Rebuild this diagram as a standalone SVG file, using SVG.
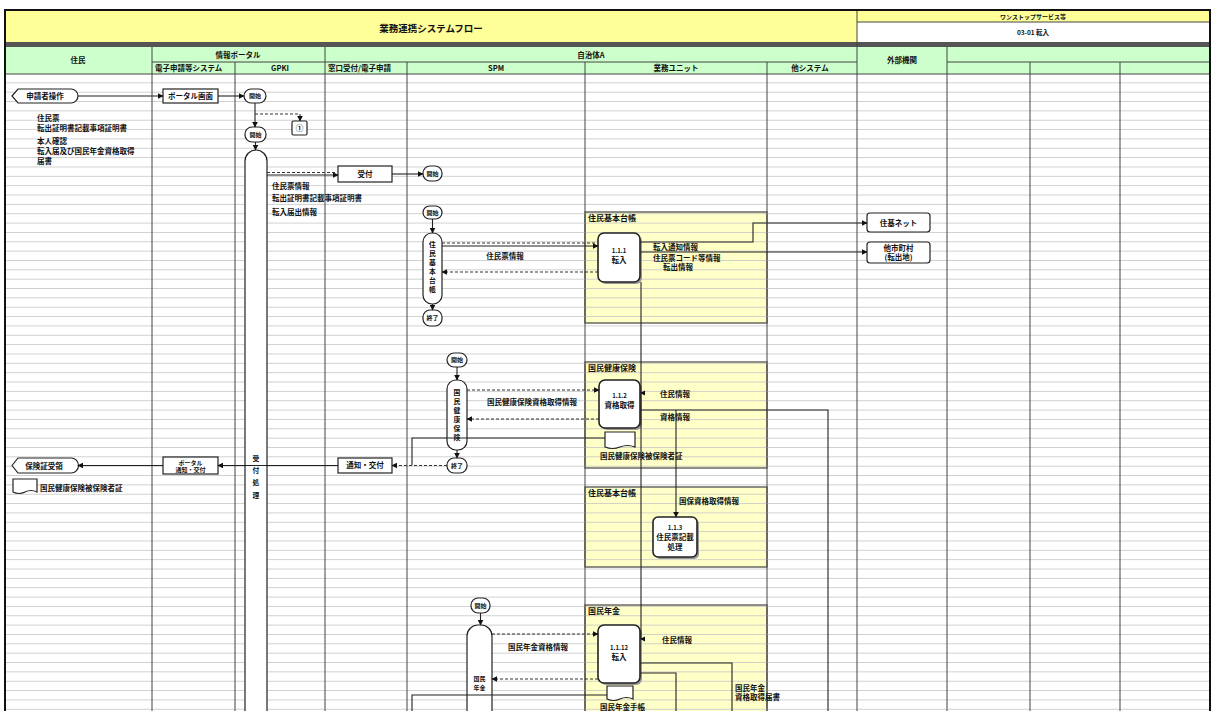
<svg xmlns="http://www.w3.org/2000/svg" width="1216" height="711" viewBox="0 0 1216 711">
<defs>
<style>
text{font-family:"Noto Sans CJK JP","Noto Sans",sans-serif;fill:#111;font-weight:bold}
.t{font-size:7.5px}
.s{font-size:6px}
.hd{font-size:7.5px}
.ti{font-size:9.5px}
.c{text-anchor:middle}
.ln{stroke:#222;stroke-width:1.1;fill:none}
.ds{stroke:#333;stroke-width:1.1;fill:none;stroke-dasharray:3 2}
.lane{stroke:#444;stroke-width:1;fill:none}
.nd{fill:#fff;stroke:#222;stroke-width:1.2}
.pb{fill:#fff;stroke:#222;stroke-width:1.6}
.sh{fill:#999}
.yb{fill:#FFFFC8;stroke:#444;stroke-width:1.2}
.v{font-size:6.8px;text-anchor:middle}
</style>
<marker id="ah" viewBox="0 0 10 10" refX="9" refY="5" markerWidth="6" markerHeight="6" markerUnits="userSpaceOnUse" orient="auto"><path d="M0,0 L10,5 L0,10 z" fill="#111"/></marker>
<pattern id="grid" x="0" y="82.35" width="20" height="9.35" patternUnits="userSpaceOnUse"><rect width="20" height="0.8" fill="#c6c6c6"/></pattern>
</defs>
<rect width="1216" height="711" fill="#fff"/>

<g id="header">
<rect x="5" y="10" width="852" height="32" fill="#FFFF99"/>
<text class="ti c" x="431" y="32">業務連携システムフロー</text>
<rect x="857" y="10" width="353" height="12" fill="#FFFF99"/>
<rect x="857" y="22" width="353" height="20" fill="#fff"/>
<line x1="857" y1="22" x2="1210" y2="22" class="lane"/>
<text class="s c" x="1033" y="19">ワンストップサービス等</text>
<text class="s c" x="1033" y="35" style="font-size:6.5px">03-01 転入</text>
<rect x="5" y="42" width="1205" height="5" fill="#555"/>
<rect x="5" y="47" width="1205" height="27" fill="#CCFFCC"/>
<line x1="152" y1="62" x2="857" y2="62" class="lane"/>
<line x1="947" y1="62" x2="1210" y2="62" class="lane"/>
<line x1="5" y1="74" x2="1210" y2="74" class="lane"/>
<text class="hd c" x="78" y="63">住民</text>
<text class="hd c" x="238" y="58">情報ポータル</text>
<text class="hd" x="155" y="71">電子申請等システム</text>
<text class="hd c" x="280" y="71">GPKI</text>
<text class="hd c" x="591" y="58">自治体A</text>
<text class="hd" x="328" y="71">窓口受付/電子申請</text>
<text class="hd c" x="496" y="71">SPM</text>
<text class="hd c" x="676" y="71">業務ユニット</text>
<text class="hd c" x="810" y="71">他システム</text>
<text class="hd c" x="902" y="63">外部機関</text>
</g>

<g id="r-juki1"><rect class="yb" x="585" y="212" width="182" height="111"/></g>
<g id="r-kokuho"><rect class="yb" x="585" y="362" width="182" height="106"/></g>
<g id="r-juki2"><rect class="yb" x="585" y="487" width="182" height="80"/></g>
<g id="r-nenkin"><rect class="yb" x="585" y="605" width="182" height="120"/></g>

<rect x="5" y="74" width="1205" height="637" fill="url(#grid)"/>

<g id="lanes">
<line x1="152" y1="47" x2="152" y2="711" class="lane"/>
<line x1="235" y1="62" x2="235" y2="711" class="lane"/>
<line x1="325" y1="47" x2="325" y2="711" class="lane"/>
<line x1="407" y1="62" x2="407" y2="711" class="lane"/>
<line x1="585" y1="62" x2="585" y2="711" class="lane"/>
<line x1="767" y1="62" x2="767" y2="711" class="lane"/>
<line x1="857" y1="10" x2="857" y2="711" class="lane"/>
<line x1="947" y1="47" x2="947" y2="711" class="lane"/>
<line x1="1030" y1="62" x2="1030" y2="711" class="lane"/>
<line x1="1120" y1="62" x2="1120" y2="711" class="lane"/>
<rect x="5" y="10" width="1205" height="710" fill="none" stroke="#111" stroke-width="2"/>
</g>

<g id="region-titles">
<text class="t" x="588" y="221" style="font-size:8px">住民基本台帳</text>
<text class="t" x="588" y="371" style="font-size:8px">国民健康保険</text>
<text class="t" x="588" y="496" style="font-size:8px">住民基本台帳</text>
<text class="t" x="588" y="614" style="font-size:8px">国民年金</text>
</g>

<g id="n-applicant"><path class="nd" d="M12,96 L18,89 H71 A7,7 0 0 1 71,103 H18 Z"/><text class="t c" x="45" y="99">申請者操作</text></g>
<g id="n-apply-docs">
<text class="t" x="37" y="121">住民票</text>
<text class="t" x="37" y="131">転出証明書記載事項証明書</text>
<text class="t" x="37" y="144">本人確認</text>
<text class="t" x="37" y="154">転入届及び国民年金資格取得</text>
<text class="t" x="37" y="164">届書</text>
</g>
<g id="n-portal-input"><rect class="nd" x="163" y="89" width="55" height="14"/><text class="t c" x="190.5" y="99">ポータル画面</text></g>
<g id="n-start1"><rect class="nd" x="244" y="89" width="22" height="14" rx="7"/><text class="s c" x="255" y="98">開始</text></g>
<g id="n-start2"><rect class="nd" x="245" y="127" width="21" height="15" rx="7"/><text class="s c" x="255.5" y="137">開始</text></g>
<g id="n-conn1"><rect class="nd" x="292" y="121" width="15" height="14" rx="1.5"/><text class="t c" x="299.5" y="131">①</text></g>
<g id="n-bar1"><rect class="nd" x="245" y="150" width="22" height="590" rx="11"/>
<text class="v" x="256" y="461">受</text><text class="v" x="256" y="473">付</text><text class="v" x="256" y="485">処</text><text class="v" x="256" y="498">理</text></g>
<g id="n-accept"><rect class="nd" x="338" y="166" width="54" height="16"/><text class="t c" x="365" y="177">受付</text></g>
<g id="n-start3"><rect class="nd" x="423" y="166" width="19" height="15" rx="7"/><text class="s c" x="432.5" y="176">開始</text></g>
<g id="n-accept-docs">
<text class="t" x="272" y="189">住民票情報</text>
<text class="t" x="272" y="201">転出証明書記載事項証明書</text>
<text class="t" x="272" y="215">転入届出情報</text>
</g>

<g id="n-b1-start"><rect class="nd" x="423" y="206" width="19" height="13" rx="6.5"/><text class="s c" x="432.5" y="215">開始</text></g>
<g id="n-b1-bar"><rect class="nd" x="423" y="233" width="19" height="71" rx="9"/>
<text class="v" x="432.5" y="247">住</text><text class="v" x="432.5" y="256">民</text><text class="v" x="432.5" y="265">基</text><text class="v" x="432.5" y="274">本</text><text class="v" x="432.5" y="283">台</text><text class="v" x="432.5" y="292">帳</text></g>
<g id="n-b1-end"><rect class="nd" x="423" y="310" width="19" height="16" rx="7"/><text class="s c" x="432.5" y="320">終了</text></g>
<g id="n-p111"><rect class="sh" x="600" y="235" width="42" height="49" rx="6"/><rect class="pb" x="598" y="233" width="42" height="49" rx="6"/><text class="s c" x="619" y="253">1.1.1</text><text class="t c" x="619" y="263">転入</text></g>
<g id="n-ext1"><rect class="nd" x="867" y="213" width="63" height="19" rx="3"/><text class="t c" x="898.5" y="225.5">住基ネット</text></g>
<g id="n-ext2"><rect class="nd" x="867" y="242" width="63" height="21" rx="3"/><text class="t c" x="898.5" y="251">他市町村</text><text class="t c" x="898.5" y="260">(転出地)</text></g>

<g id="n-b2-start"><rect class="nd" x="447" y="353" width="20" height="14" rx="7"/><text class="s c" x="457" y="362">開始</text></g>
<g id="n-b2-bar"><rect class="nd" x="447" y="380" width="20" height="70" rx="9"/>
<text class="v" x="457" y="395">国</text><text class="v" x="457" y="404">民</text><text class="v" x="457" y="413">健</text><text class="v" x="457" y="422">康</text><text class="v" x="457" y="431">保</text><text class="v" x="457" y="440">険</text></g>
<g id="n-b2-end"><rect class="nd" x="447" y="458" width="20" height="15" rx="7"/><text class="s c" x="457" y="468">終了</text></g>
<g id="n-p112"><rect class="sh" x="601" y="382" width="41" height="48" rx="6"/><rect class="pb" x="599" y="380" width="41" height="48" rx="6"/><text class="s c" x="619.5" y="398">1.1.2</text><text class="t c" x="619.5" y="408">資格取得</text></g>
<g id="n-doc2"><path class="nd" d="M605,432 H635 V447 Q627.5,444 620,447 T605,447 Z"/><text class="t" x="600" y="459">国民健康保険被保険者証</text></g>
<g id="n-notify"><rect class="nd" x="338" y="458" width="54" height="15"/><text class="t c" x="365" y="468">通知・交付</text></g>
<g id="n-portal-notify"><rect class="nd" x="163" y="457" width="55" height="17"/><text class="s c" x="190.5" y="464.5">ポータル</text><text class="s c" x="190.5" y="472">通知・交付</text></g>
<g id="n-receive"><path class="nd" d="M12,465.5 L18,458 H71 A7.5,7.5 0 0 1 71,473 H18 Z"/><text class="t c" x="44" y="468.5">保険証受領</text></g>
<g id="n-docL"><path class="nd" d="M13,479 H37 V492 Q31,489 25,492 T13,492 Z"/><text class="t" x="40" y="491">国民健康保険被保険者証</text></g>

<g id="n-p113"><rect class="sh" x="655" y="519" width="44" height="40" rx="5"/><rect class="pb" x="653" y="517" width="44" height="40" rx="5"/><text class="s c" x="675" y="530">1.1.3</text><text class="t c" x="675" y="540">住民票記載</text><text class="t c" x="675" y="550">処理</text></g>

<g id="n-b4-start"><rect class="nd" x="471" y="598" width="19" height="15" rx="7"/><text class="s c" x="480.5" y="608">開始</text></g>
<g id="n-b4-bar"><rect class="nd" x="467" y="625" width="25" height="110" rx="11"/><text class="s c" x="479.5" y="681">国民</text><text class="s c" x="479.5" y="690">年金</text></g>
<g id="n-p1112"><rect class="sh" x="600" y="627" width="42" height="58" rx="6"/><rect class="pb" x="598" y="625" width="42" height="58" rx="6"/><text class="s c" x="619" y="650">1.1.12</text><text class="t c" x="619" y="660">転入</text></g>
<g id="n-doc4"><path class="nd" d="M607,686 H633 V699 Q626.5,696 620,699 T607,699 Z"/><text class="t" x="600" y="710">国民年金手帳</text></g>

<g id="connectors">
<line class="ln" x1="78" y1="96" x2="163" y2="96" marker-end="url(#ah)"/>
<line class="ln" x1="218" y1="96" x2="244" y2="96" marker-end="url(#ah)"/>
<line class="ln" x1="255" y1="103" x2="255" y2="127" marker-end="url(#ah)"/>
<path class="ds" d="M255,114 H300 V121" marker-end="url(#ah)"/>
<line class="ln" x1="255.5" y1="142" x2="255.5" y2="150" marker-end="url(#ah)"/>
<line class="ln" x1="267" y1="175" x2="338" y2="175" marker-end="url(#ah)"/>
<line class="ds" x1="267" y1="172.5" x2="336" y2="172.5"/>
<line class="ln" x1="392" y1="174" x2="423" y2="174" marker-end="url(#ah)"/>

<line class="ln" x1="432.5" y1="219" x2="432.5" y2="233" marker-end="url(#ah)"/>
<line class="ln" x1="432.5" y1="304" x2="432.5" y2="310" marker-end="url(#ah)"/>
<line class="ds" x1="442" y1="243" x2="596" y2="243" stroke="#777"/>
<line class="ln" x1="442" y1="246" x2="598" y2="246" marker-end="url(#ah)"/>
<text class="t c" x="505" y="259">住民票情報</text>
<line class="ds" x1="598" y1="272" x2="442" y2="272" marker-end="url(#ah)"/>
<path class="ln" d="M640,242 H753 V223 H867" marker-end="url(#ah)"/>
<line class="ln" x1="640" y1="252" x2="867" y2="252" marker-end="url(#ah)"/>
<text class="t" x="653" y="250">転入通知情報</text>
<text class="t" x="653" y="261">住民票コード等情報</text>
<text class="t" x="663" y="270">転出情報</text>

<line class="ln" x1="641" y1="282" x2="641" y2="639"/>
<path d="M640,393 L645,390.5 L645,395.5 Z" fill="#111"/>
<path d="M640,639 L645,636.5 L645,641.5 Z" fill="#111"/>

<line class="ln" x1="457" y1="367" x2="457" y2="380" marker-end="url(#ah)"/>
<line class="ln" x1="457" y1="450" x2="457" y2="458" marker-end="url(#ah)"/>
<line class="ds" x1="467" y1="390" x2="599" y2="390" marker-end="url(#ah)"/>
<text class="t c" x="532" y="405">国民健康保険資格取得情報</text>
<line class="ds" x1="599" y1="419" x2="467" y2="419" marker-end="url(#ah)"/>
<text class="t" x="660" y="397">住民情報</text>
<path class="ln" d="M640,410 H828 V711"/>
<text class="t" x="660" y="420">資格情報</text>
<line class="ln" x1="676" y1="410" x2="676" y2="517" marker-end="url(#ah)"/>
<text class="t" x="679" y="504">国保資格取得情報</text>
<path class="ln" d="M605,438 H412 V465"/>
<path class="ds" d="M447,465.5 H392" marker-end="url(#ah)"/>
<line class="ln" x1="338" y1="465.5" x2="218" y2="465.5" marker-end="url(#ah)"/>
<line class="ln" x1="163" y1="465.5" x2="78" y2="465.5" marker-end="url(#ah)"/>

<line class="ln" x1="480.5" y1="613" x2="480.5" y2="625" marker-end="url(#ah)"/>
<line class="ds" x1="492" y1="634" x2="598" y2="634" marker-end="url(#ah)"/>
<text class="t c" x="538" y="650">国民年金資格情報</text>
<line class="ds" x1="598" y1="679" x2="492" y2="679" marker-end="url(#ah)"/>
<text class="t" x="662" y="643">住民情報</text>
<path class="ln" d="M640,663 H732 V711"/>
<path class="ln" d="M640,673 H676 V711"/>
<text class="t" x="735" y="691">国民年金</text>
<text class="t" x="735" y="700">資格取得届書</text>
<path class="ln" d="M607,695 H412 V711"/>
</g>
</svg>
